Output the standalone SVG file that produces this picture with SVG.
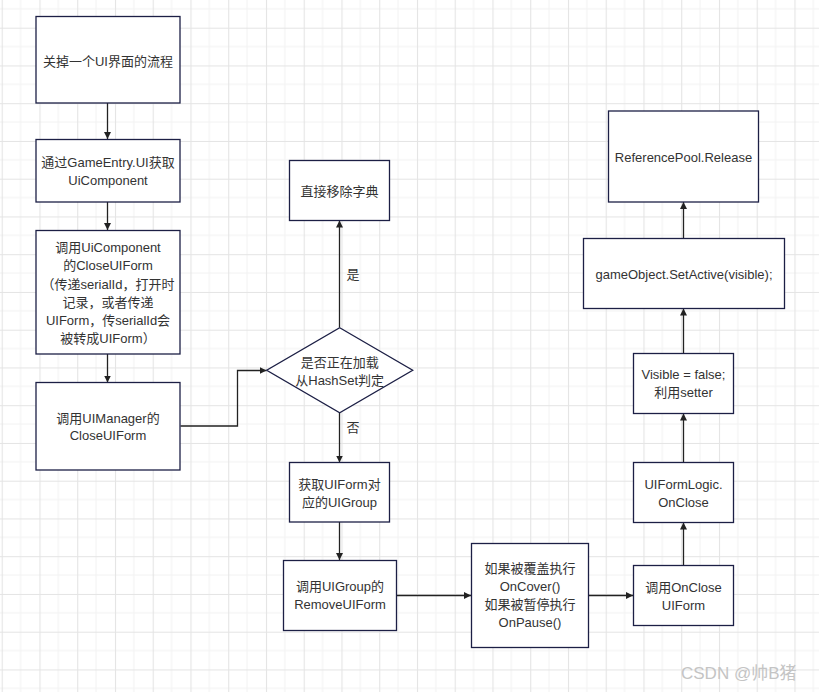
<svg xmlns="http://www.w3.org/2000/svg" width="819" height="692" viewBox="0 0 819 692">
<style>
.n{fill:#ffffff;stroke:#1c1f45;stroke-width:1.3}
.t{font-family:"Liberation Sans","Noto Sans CJK SC",sans-serif;font-size:13px;fill:#333333;text-anchor:middle;dominant-baseline:central}
.c{fill:none;stroke:#222222;stroke-width:1.3;marker-end:url(#ah)}
.wm{font-family:"Liberation Sans","Noto Sans CJK SC",sans-serif;font-size:17px;fill:#c4c4c4;dominant-baseline:central}
</style>
<defs>
<pattern id="grid" x="1.7" y="27.7" width="37.75" height="37.75" patternUnits="userSpaceOnUse">
<path d="M18.875 0V37.75M0 18.875H37.75" stroke="#f2f2f2" stroke-width="1"/>
<path d="M0.5 0V37.75M0 0.5H37.75" stroke="#e4e4e4" stroke-width="1.2"/>
</pattern>
<marker id="ah" viewBox="0 0 10 10" refX="10" refY="5" markerWidth="7" markerHeight="7" markerUnits="userSpaceOnUse" orient="auto">
<path d="M0 0L10 5L0 10Z" fill="#222222"/>
</marker>
</defs>
<rect width="819" height="692" fill="#ffffff"/>
<rect width="819" height="692" fill="url(#grid)"/>
<g id="connectors">
<path class="c" d="M107.5 103V139"/>
<path class="c" d="M107.5 202V230"/>
<path class="c" d="M107.5 354V382.5"/>
<path class="c" d="M180.5 426H237.5V370.5H266.5"/>
<path class="c" d="M339.5 327.5V220.5"/>
<path class="c" d="M339.5 412.5V462.5"/>
<path class="c" d="M339.5 522V560"/>
<path class="c" d="M396.5 595.5H471"/>
<path class="c" d="M588.5 595.5H633"/>
<path class="c" d="M683.5 565V522.5"/>
<path class="c" d="M683.5 462V413.5"/>
<path class="c" d="M683.5 353.5V308.5"/>
<path class="c" d="M683.5 238V202"/>
<text class="t" x="353" y="274">是</text>
<text class="t" x="353" y="427">否</text>
</g>
<g id="n1"><rect class="n" x="36" y="16.5" width="144" height="86.5"/><text class="t" x="108" y="61.5">关掉一个UI界面的流程</text></g>
<g id="n2"><rect class="n" x="36" y="139.5" width="144" height="62.5"/><text class="t" x="108" y="162.5">通过GameEntry.UI获取</text><text class="t" x="108" y="180">UiComponent</text></g>
<g id="n3"><rect class="n" x="36" y="230.5" width="144" height="123.5"/>
<text class="t" x="108" y="247.5">调用UiComponent</text>
<text class="t" x="108" y="265.5">的CloseUIForm</text>
<text class="t" x="108" y="284">（传递serialId，打开时</text>
<text class="t" x="108" y="302">记录，或者传递</text>
<text class="t" x="108" y="320">UIForm，传serialId会</text>
<text class="t" x="108" y="338">被转成UIForm）</text></g>
<g id="n4"><rect class="n" x="36" y="382.5" width="144" height="87.5"/><text class="t" x="108" y="418.5">调用UIManager的</text><text class="t" x="108" y="435.5">CloseUIForm</text></g>
<g id="d1"><path class="n" d="M339.7 327.7L412.7 370.2L339.7 412.7L266.7 370.2Z"/><text class="t" x="339.7" y="362">是否正在加载</text><text class="t" x="339.7" y="380">从HashSet判定</text></g>
<g id="n5"><rect class="n" x="289.5" y="160.5" width="100" height="60"/><text class="t" x="339.5" y="191.5">直接移除字典</text></g>
<g id="n6"><rect class="n" x="289.5" y="462.5" width="100" height="59.5"/><text class="t" x="339.5" y="484">获取UIForm对</text><text class="t" x="339.5" y="502">应的UIGroup</text></g>
<g id="n7"><rect class="n" x="283.5" y="560.5" width="113" height="70"/><text class="t" x="340" y="586.5">调用UIGroup的</text><text class="t" x="340" y="604.5">RemoveUIForm</text></g>
<g id="n8"><rect class="n" x="471.5" y="543.5" width="117" height="104"/>
<text class="t" x="530" y="568">如果被覆盖执行</text>
<text class="t" x="530" y="586.5">OnCover()</text>
<text class="t" x="530" y="604.5">如果被暂停执行</text>
<text class="t" x="530" y="622.5">OnPause()</text></g>
<g id="n9"><rect class="n" x="633.5" y="565.5" width="100" height="60"/><text class="t" x="683.5" y="587">调用OnClose</text><text class="t" x="683.5" y="605">UIForm</text></g>
<g id="n10"><rect class="n" x="633.5" y="462.5" width="100" height="60"/><text class="t" x="683.5" y="484">UIFormLogic.</text><text class="t" x="683.5" y="502">OnClose</text></g>
<g id="n11"><rect class="n" x="633.5" y="353.5" width="100" height="60"/><text class="t" x="683.5" y="374.5">Visible = false;</text><text class="t" x="683.5" y="392.5">利用setter</text></g>
<g id="n12"><rect class="n" x="583.5" y="238.5" width="201" height="70"/><text class="t" x="684" y="274">gameObject.SetActive(visible);</text></g>
<g id="n13"><rect class="n" x="608.5" y="111" width="150" height="91"/><text class="t" x="683.5" y="157">ReferencePool.Release</text></g>
<text class="wm" x="681" y="673">CSDN @帅B猪</text>
</svg>
